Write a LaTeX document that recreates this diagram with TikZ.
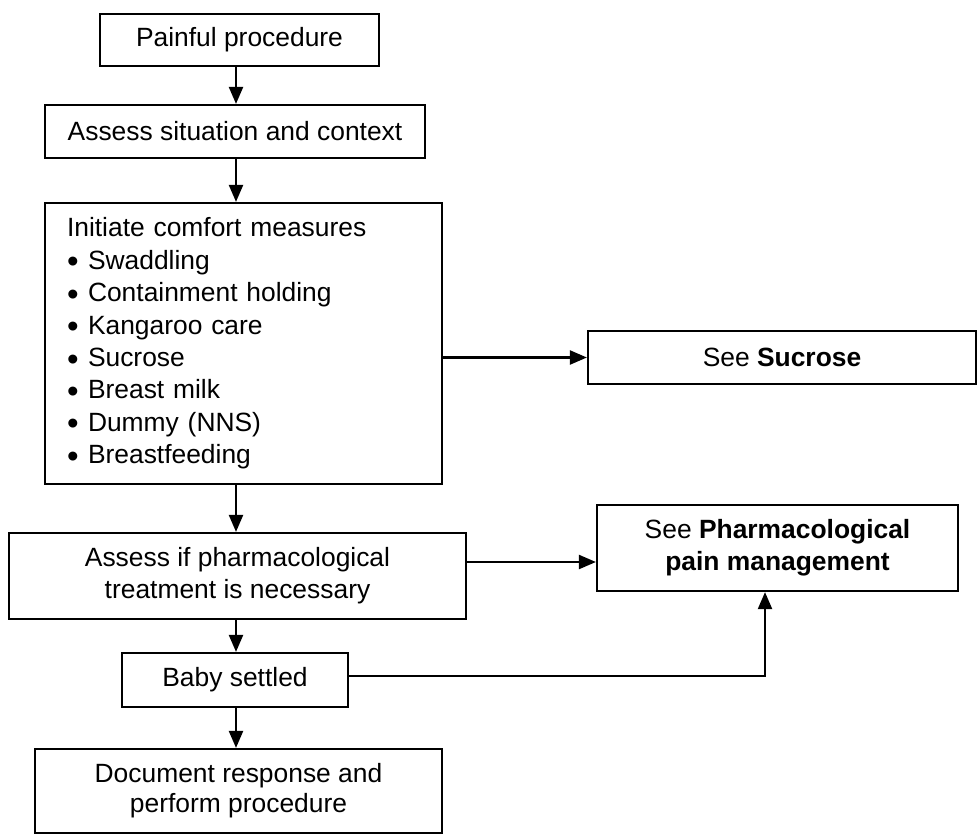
\documentclass[tikz,border=0pt]{standalone}
\usepackage{fontspec}
\setmainfont{Liberation Sans}
\usetikzlibrary{calc,arrows.meta,positioning}

\newcommand{\listdot}{\makebox[10.5pt][l]{\raisebox{-1.8pt}{\fontsize{16.5}{16}\selectfont\textbullet}}}

\begin{document}
\begin{tikzpicture}[x=0.5pt,y=-0.5pt]

\tikzset{plainbox/.style={draw=black,line width=1.1pt,inner sep=0pt,align=center,font=\fontsize{13.2}{16}\selectfont},
flowarrow/.style={line width=1.1pt,-{Triangle[length=8.5pt,width=7pt]}}}

\useasboundingbox (0,0) rectangle (978,834);

% Main column nodes
\node (pain) [plainbox,minimum width=139.5pt,minimum height=26pt] at (239.5,40) {Painful procedure};
\node (situation) [plainbox,minimum width=190pt,minimum height=26.5pt] at (235,131.5) {Assess situation and context};
\node (comfort) [plainbox,minimum width=198.5pt,minimum height=140.5pt,text width=176.5pt,align=left,font=\fontsize{13.2}{16.2}\selectfont] at (243.5,343.5)
  {Initiate comfort measures\\ \listdot Swaddling\\ \listdot Containment holding\\ \listdot Kangaroo care\\ \listdot Sucrose\\ \listdot Breast milk\\ \listdot Dummy (NNS)\\ \listdot Breastfeeding};
\node (pharmcheck) [plainbox,minimum width=228.5pt,minimum height=43pt] at (237.5,576) {Assess if pharmacological\\ treatment is necessary};
\node (settled) [plainbox,minimum width=113pt,minimum height=27pt] at (235,680) {Baby settled};
\node (document) [plainbox,minimum width=203.5pt,minimum height=42pt,font=\fontsize{13.2}{15}\selectfont] at (238.5,791) {Document response and\\ perform procedure};

% Side nodes
\node (sucrose) [plainbox,minimum width=194pt,minimum height=26.5pt] at (782,357.5) {See \textbf{Sucrose}};
\node (pharm) [plainbox,minimum width=180.5pt,minimum height=43pt] at (777.5,548) {See \textbf{Pharmacological}\\ \textbf{pain management}};

% Helper coordinates
\coordinate (spine) at (236,0);
\coordinate (pharmrow) at (0,562);
\coordinate (pharmcol) at (765,0);

% Arrows
\draw[flowarrow] (pain.south -| spine) -- (situation.north -| spine);
\draw[flowarrow] (situation.south -| spine) -- (comfort.north -| spine);
\draw[flowarrow] (comfort.south -| spine) -- (pharmcheck.north -| spine);
\draw[flowarrow] (pharmcheck.south -| spine) -- (settled.north -| spine);
\draw[flowarrow] (settled.south -| spine) -- (document.north -| spine);
\draw[flowarrow] (comfort.east |- sucrose.west) -- (sucrose.west);
\draw[flowarrow] (pharmcheck.east |- pharmrow) -- (pharm.west |- pharmrow);
\draw[flowarrow] (settled.east |- 0,676) -| (pharmcol |- pharm.south);

\end{tikzpicture}
\end{document}
